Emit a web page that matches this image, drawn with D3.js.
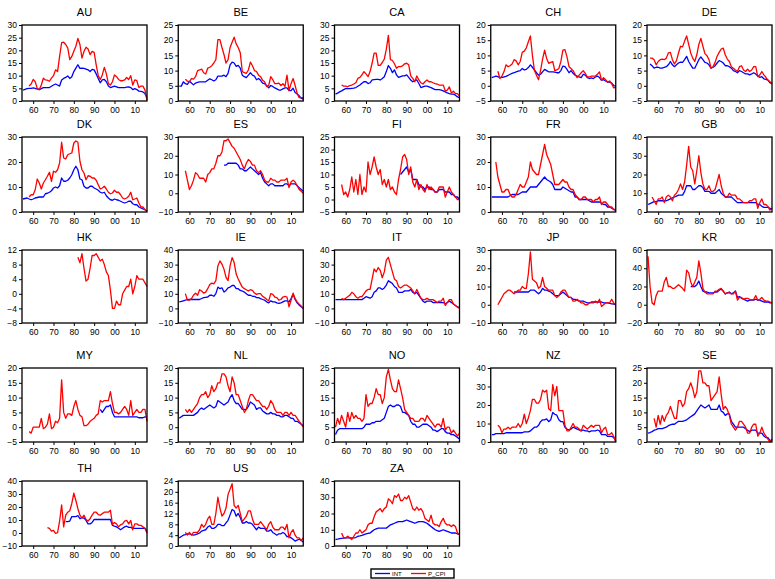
<!DOCTYPE html>
<html>
<head>
<meta charset="utf-8">
<script src="https://cdn.jsdelivr.net/npm/d3@7"></script>
<style>
  body { margin: 0; background: #fff; }
  svg { display: block; font-family: Arial, "Liberation Sans", sans-serif; }
</style>
</head>
<body>
<svg id="chart" width="775" height="579"></svg>
<script>
// yearly values; INT = blue, P_CPI = red
const AU_INT = [4.3,4.6,4.9,5.0,5.0,5.2,5.0,4.7,4.5,4.9, 5.3,5.3,5.3,5.3,5.8,6.3,6.7,6.3,5.9,8.3, 8.9,9.3,9.9,8.9,9.6,11.6,13.0,14.3,12.9,13.0, 12.9,12.6,12.3,11.6,12.5,12.3,10.7,8.9,7.2,8.3, 8.5,7.6,5.9,5.3,5.6,5.9,5.6,5.3,5.3,5.3, 5.3,5.5,5.6,5.3,4.5,4.9,4.5,3.9,3.8,3.6, 2.9,1.3];
const AU_CPI = [5.9,6.7,8.5,7.6,5.0,4.5,6.3,9.0,8.3,8.2, 7.8,9.0,10.0,12.3,11.6,17.6,23.0,23.2,22.3,21.0, 16.3,17.6,19.6,21.6,24.7,22.3,16.9,19.6,21.2,20.5, 18.3,19.6,19.2,14.3,10.0,8.5,10.3,13.3,10.7,6.9, 6.3,7.6,10.3,9.6,8.5,8.0,8.0,8.3,9.3,8.5, 10.0,6.3,8.3,8.0,5.3,5.9,5.9,4.3,0.3];
const BE_INT = [4.9,4.9,6.3,5.7,5.5,6.5,5.9,5.3,5.9,6.1, 6.3,6.3,6.3,6.3,6.8,7.3,7.0,6.6,7.0,8.2, 8.2,8.2,8.5,8.0,9.1,11.9,12.8,12.5,11.4,11.7, 10.8,8.5,8.0,7.7,8.5,9.3,8.5,8.2,7.0,7.4, 6.8,5.9,5.7,5.1,4.3,5.1,4.8,4.3,4.0,3.6, 3.6,4.0,4.3,4.3,3.4,3.4,4.2,2.8,2.3,1.7, 0.9,0.6];
const BE_CPI = [7.2,6.5,6.3,7.4,7.2,8.0,10.0,10.2,10.5,9.3, 8.9,10.8,11.1,11.6,12.5,13.6,20.2,20.2,17.6,15.3, 12.5,13.6,17.6,19.3,21.0,18.8,17.6,15.9,9.7,9.3, 9.1,10.2,12.8,11.6,10.0,9.7,8.5,8.0,6.8,6.3, 4.8,5.1,8.0,7.0,5.7,5.7,5.9,5.1,5.7,4.8, 8.5,3.4,5.7,7.4,5.1,2.5,1.1,1.1,1.1];
const CA_INT = [2.7,3.1,3.6,4.0,4.5,4.9,4.9,4.9,5.0,5.1, 5.3,5.8,6.3,7.0,7.6,7.6,6.9,7.2,8.3,8.4, 8.5,8.5,8.3,8.9,9.6,11.6,14.0,12.9,11.2,12.3, 10.3,9.3,9.6,9.9,9.9,10.3,9.3,8.3,7.6,8.0, 8.3,6.9,5.3,5.6,5.9,5.9,5.6,5.3,4.9,4.5, 4.5,4.5,4.3,4.0,3.6,3.2,2.9,2.7,2.7,2.3, 1.6,1.3];
const CA_CPI = [6.3,5.9,5.9,5.6,6.1,6.3,6.7,7.2,8.9,9.3, 10.3,11.6,10.7,9.6,11.6,14.9,18.9,18.9,14.1,14.1, 15.2,16.5,20.5,25.9,16.3,16.0,14.7,12.9,13.6,13.6, 13.9,14.7,14.9,14.3,9.9,8.9,7.6,9.9,8.3,7.2, 6.7,7.6,8.3,7.6,7.6,7.2,6.9,6.7,6.3,6.3, 6.3,4.0,4.3,5.6,3.2,3.9,2.9,2.9,1.9];
const CH_INT = [2.7,2.9,3.2,3.0,2.7,2.8,2.9,3.1,3.4,3.8, 4.1,4.3,4.6,4.8,5.0,5.7,5.2,5.4,6.0,6.9, 6.1,5.2,4.3,3.5,3.8,4.6,5.4,5.0,4.6,4.6, 4.6,4.5,4.3,4.3,5.0,6.5,6.3,5.4,4.3,5.0, 4.1,3.5,3.2,2.9,2.7,3.8,3.5,2.7,2.4,2.6, 2.4,2.9,3.2,2.7,1.8,2.0,1.6,1.2,1.2,0.9, 0.1,-0.2];
const CH_CPI = [4.8,2.4,3.2,4.6,6.9,6.3,6.6,7.2,8.6,8.2, 6.9,8.0,11.0,11.4,12.5,14.5,16.4,10.0,5.0,3.5, 2.0,5.0,8.8,11.7,9.0,7.4,7.7,8.0,5.0,5.2, 5.7,8.0,11.7,11.9,9.5,6.3,5.7,5.0,3.8,2.7, 3.5,4.3,5.0,4.1,2.9,2.9,3.2,3.2,3.2,3.8, 4.6,1.8,2.7,2.0,1.2,1.6,0.7,-0.7,-0.5];
const DE_INT = [7.2,6.6,5.8,6.1,6.1,5.8,5.8,6.1,6.3, 6.9,8.0,6.9,6.3,6.9,7.5,7.8,7.7,8.6,9.7, 8.0,6.9,5.8,5.8,7.2,8.6,9.5,8.6,7.7,7.5, 6.9,5.8,6.1,6.6,7.5,8.3,8.0,7.5,6.6,6.6, 6.3,5.8,5.0,4.7,4.3,5.0,4.7,4.3,3.9,3.9, 3.6,3.9,4.3,3.9,3.2,2.8,3.0,2.3,2.1,1.9, 1.0,0.6];
const DE_CPI = [9.1,9.1,8.6,6.9,8.0,8.6,8.8,8.6,9.1, 10.8,11.0,8.6,7.2,8.3,10.8,13.0,12.8,14.7,16.4, 13.6,10.8,9.1,8.0,10.2,13.6,15.6,13.0,10.6,9.9, 8.6,5.8,6.3,7.7,9.7,11.0,12.1,12.4,10.2,8.8, 8.0,6.3,5.8,5.2,4.7,6.3,6.6,5.2,4.7,5.5, 4.7,5.2,6.3,6.3,3.0,3.6,4.7,3.6,2.8,1.9, 1.3,0.8];
const DK_INT = [5.2,5.4,5.6,5.2,4.9,5.2,5.6,5.8,6.0,6.0, 6.0,7.3,7.5,7.9,8.5,9.6,10.0,9.6,10.5,13.6, 12.3,12.3,12.7,13.6,14.9,16.9,18.3,16.9,13.2,12.9, 10.3,9.6,9.6,10.3,10.3,9.6,9.2,8.7,7.9,7.6, 7.9,6.5,5.6,4.9,4.7,5.2,4.9,4.7,4.3,3.9, 3.6,3.9,4.3,4.3,3.3,2.9,2.9,2.0,1.6,1.2, 0.9,0.3];
const DK_CPI = [6.0,6.9,6.9,8.9,13.2,11.6,9.2,11.6,12.9,14.3, 15.9,12.3,16.3,15.9,16.9,19.6,27.9,21.6,21.2,22.9, 23.3,23.6,27.6,28.4,27.9,20.3,16.9,15.6,12.9,14.5, 14.3,13.6,13.6,12.7,10.9,9.2,9.6,10.3,9.2,7.9, 7.3,7.6,8.7,7.9,7.9,6.9,5.6,5.2,5.6,6.3, 7.9,4.9,5.2,5.6,3.6,2.0,2.0,0.9,0.3];
const ES_INT = [15,15,16,16,16,16,16,15,13,13, 12,12,13,14,13,12,11,10,11,8, 6,5,4,5,5,4,4,4,4,4, 5,5,4,5,5,5,4,3,2,1];
const ES_CPI = [12,7,2,4,7,11,10,8,8,8, 6,10,11,13,13,16,20,20,22,28, 28,29,27,25,24,22,20,18,15,13, 16,18,17,15,15,12,11,12,10,7, 6,6,8,7,7,6,6,7,7,7, 8,3,6,7,6,4,2,1,0];
const FI_INT = [10,11,12,13,11,12,8,8,8,6, 5,5,4,5,5,4,4,3,3,4, 4,4,3,3,3,2,2,1,1,0];
const FI_CPI = [6,2,3,1,4,9,3,8,2,10, 2,5,3,15,10,13,17,13,10,12, 6,8,5,8,4,5,3,2,8,12, 17,18,16,10,13,7,5,8,4,6, 4,3,6,4,5,4,3,3,5,5, 5,1,3,5,3,2,1,0,0];
const FR_INT = [6,6,6,6,6,6,6,6,6,6.5, 7,7,7,7,7.5,8,8,8,9,10, 10,10,10,11,12,13,14,13,12.5,12, 11,9,9,9,9,10,9.5,9,8.5,8, 8,6,6,5,5,5,5,5,4.5,4, 4,4,4,4,3.5,3,3,2,2,1.5, 1,0.5];
const FR_CPI = [20,14,11,8,8,9,9,7,6,6, 7,9,11,10,10,12,14,20,17,16, 15,15,19,23,27,23,21,19,15,11, 11,11,12,13,12,12,10,9,9,7, 6,5,5,6,6,5,5,5,4,5, 5,6,3,4,4,3,2,2,1,1];
const GB_INT = [4,4.5,5,5.5,5.5,6,6,6,6,6, 6.5,7,7.5,8,8.5,9,9,9,11,14, 14,14,12,12,13,14,14,13,11,11, 11,10,10,10,11,12,10,9,8,8, 8,8,7,6,5,5,5,5,5,5, 5,5,5,5,4,4,3,2.5,2.5,2.5, 2,1.5];
const GB_CPI = [8,6,4,7,7,8,5,8,9,8, 6,9,10,12,15,12,16,25,35,24, 22,15,22,30,21,15,12,12,14,11, 11,12,16,20,14,10,8,8,10,9, 9,9,7,7,6,5,5,5,6,6, 7,7,2,5,7,4,4,3,1,2];
const HK_CPI = [10,8.5,11,7,3.5,4,7,10.5,10.5,11, 10,9,9.5,8,6,5,1,-4,-4,-2, -3,-3,0,1,2,2,4,0,2,5, 4,4,4,3,2];
const IE_INT = [4.5,4.8,5.2,5.6,6.1,6.1,6.1,6.1,6.1,6.1, 6.1,6.8,7.4,7.6,7.8,9.0,9.0,8.3,10.1,14.6, 13.5,14.1,11.2,12.3,14.1,14.6,15.7,15.7,13.5,13.5, 12.3,11.9,11.2,10.1,9.0,9.0,8.3,8.3,7.4,7.4, 6.7,6.1,5.6,4.5,3.8,5.2,4.5,4.5,3.8,3.4, 3.8,4.5,5.2,5.2,4.5,6.7,9.6,6.1,3.8,2.2, 1.1,0.0];
const IE_CPI = [10.1,5.6,5.6,6.7,9.0,10.5,9.0,12.8,11.9,10.5, 11.2,13.5,16.4,17.3,16.8,19.0,29.1,32.5,30.3,26.9, 21.3,19.0,29.1,34.8,31.4,23.5,20.2,17.3,14.6,13.5, 12.8,11.9,12.8,12.3,10.5,9.6,10.1,10.1,8.3,7.4, 6.1,5.2,10.1,9.6,7.8,7.4,5.6,6.1,7.8,8.3, 7.8,1.1,5.6,10.5,6.7,4.5,2.9,1.6,0.0];
const IT_INT = [6,6,6,6,6,6,6,6,6,6, 6,6,6,6,7,8,7.5,7,8,11, 12,14,14,13,14,16,19,18,17,15, 14,11,11,11,12,12,12,13,11,10, 11,9,7,5,4,5,5,5,4,4, 4,4,4,4,3,4,5,4,3,2, 1,0.5];
const IT_CPI = [7,6,7,8,9,11,10,8,7,8, 8,10,12,13,13,20,27,25,28,26, 21,25,33,35,30,25,20,19,15,14, 15,16,16,15,14,12,10,13,10,7, 6,6,7,6,6,6,5,4,5,5, 7,2,4,6,6,3,2,1,0];
const JP_INT = [7,7,7,7,7,7,7,7,8,8, 8,7,6,7,9,8,8,7.5,7,6, 5,5,5,6,7,6,5,4,4,3, 3,2.5,2,2,2,1.5,1,1,1.5,1.5, 1.5,1.5,1.5,1.5,1,1,1,0.7,0.5,0.4, 0];
const JP_CPI = [0,2,4,6,7,8,8,7,6,7, 8,8,10,9,9,17,29,14,13,12, 9,10,15,10,9,8,8,8,5,4, 5,7,8,8,6,4,4,2,2,3, 2,1,1,0,0,1,1,1,2,1, 3,-1,0,1,1,1,3,1,0];
const KR_INT = [20,20,20,22,26,20,15,14,14,13, 13,13,14,14,16,17,15,12,13,14, 12,13,15,8,9,7,6,5,4,5, 5,5,6,5,5,4,3,3,3,2, 2];
const KR_CPI = [53,20,2,0,10,15,15,15,25,30, 20,20,18,18,20,22,20,18,15,38, 35,25,20,25,30,48,35,18,14,12, 12,12,12,15,15,17,18,15,12,13, 13,12,12,15,5,8,8,6,7,7, 6,5,6,10,5,6,8,5,4,4, 3,2];
const MY_INT = [6,5,6,7,7,7.5,5,3.5,3.5,3.5, 3.5,3.5,3.5,3.5,3.5,3.5,3.5,3.5,3.5,3.2, 3.2,3.2,3.5,3.5];
const MY_CPI = [-1.5,-2,0,0,0,0,3,-0.5,0,1, 4.5,-0.5,0,2,1.5,3,16,5,3,4.5, 4.5,4,7,9,6,4,3.5,0.5,0.5,1, 2,2.5,3,4,4.5,9,8.5,9,9,9, 12,8,5,5,4.5,5,6,7,6,4, 9,4,5,6,5,5,6,6,2];
const NL_INT = [3,3.5,4,4,4,4,4,4,4.5,5, 6,6.5,6,6.5,7,7.5,7,6.5,7,9, 8.5,8,7.5,8,8.5,10,11,9,8,8, 7,6,6,6,7,8.5,8,7.5,6,6.5, 6.5,5.5,5,4.5,4.5,5,4.5,4.5,4,4, 3.5,3.5,4,4,3.5,3,3,2,2,1.5, 1,0.5];
const NL_CPI = [6,5,6,5,6,7,8,10,11,11, 12,10,11,14,12,13,15,15,18,18, 17,14,12,17,15,11,11,9,7,5, 6,9,11,11,10,9,9,8,7,7, 6,7,9,8,6,5,5,5,4,5, 5,4,5,4,4,3,2,1,0];
const NO_INT = [2.5,4,4.5,4.5,4.5,4.5,4.5,4.5,4.5,4.5, 4.5,4.5,4.5,4.5,5,6,6,6,6.5,6.5, 7,7,7,7.5,8,10,12,12.5,12,12, 12.5,12.5,12,10,10,9.5,9,7,6,6, 5,5,5.5,6,6,6,5.5,5,4,4, 3.5,4,4.5,4.5,3.5,3,3,2.5,2.5,2, 1.5,1];
const NO_CPI = [5,8,6,9,7,5,10,7,10,8, 9,8,8,7,8,16,12,13,13,15, 18,16,16,13,15,22,24.5,21,18,17, 17,21,18,15,11,10,9,8,8,7, 7,7,8,8,7,9,8,7,6,5, 6,6,5,8,4,5,5,3,4,3, 2,3];
const NZ_INT = [4,4,4.5,4.5,4.5,4.5,4.5,5,5,5, 5,5,5,5,5,5,5.5,5.5,5.5,6, 7,8,8,9,11,12,12,12.5,11,12, 16,15,14.5,12,11,11,8,7,6.5,7, 8,7.5,7,6.5,6,6.5,6,6,5.5,6, 6,6,6.5,6,4,4,4,3,3,3, 2.5,0.5];
const NZ_CPI = [9,8,5,7,7,8,7,8,8,8, 10,8,10,15,10,13,17,23,23,21, 21,23,28,27,28,18,17,31,25,30, 17,17,17,9,6,6,8,10,8,8, 7,6,9,8,7,8,9,8,9,9, 9,5,7,8,4,4,5,3,0];
const SE_INT = [3,3.2,3.5,4,4.2,4.5,4.5,4.5,4.8,5, 5.5,5.8,6,6,6.5,7,7,7,7.2,7.5, 8,8.5,9,9.5,10.5,11.5,12.5,12,11.5,12, 12.5,11,11,11,11,12.5,10.5,10,9,9.5, 9.5,7,6,5,5,5,5,5,4.5,4, 3.5,4,4,4,3,3,3,2,1.5,1.5, 0.5,0.5];
const SE_CPI = [8,5,9,6,9,7,9,10,12,10, 8,8,14,14,12,13,17,18,20,18, 15,17,24,24,20,20,19,19,14,15, 16,17,22,16,11,12,11,9,6,5, 4,5,7,7,6,5,3,3,5,6, 6,2,3,5,3,2,1,0,1];
const TH_INT = [8.8,8.8,9.2,12.6,12.6,12.6,13.3,11.0,11.9,11.5, 9.7,7.0,7.0,8.1,10.4,10.4,10.4,10.4,10.4,10.4, 10.4,10.4,10.4,5.9,5.2,4.7,3.6,2.5,3.6,4.7, 5.2,4.3,4.3,3.6,3.6,3.6,3.6,3.6,3.6,3.6, 1.4];
const TH_CPI = [4.1,3.6,1.4,2.0,-0.2,0.2,9.2,21.6,4.7,13.7, 16.0,17.1,22.7,30.6,25.0,18.7,13.7,11.5,13.7,10.4, 9.2,11.0,13.7,16.0,16.0,14.2,13.7,14.9,16.0,16.0, 16.0,17.6,6.5,8.1,7.0,4.7,6.3,7.0,9.2,9.7, 7.0,9.7,2.5,7.0,7.0,5.9,5.9,4.7,3.6,-0.2];
const US_INT = [3,3.5,4,4.2,4.5,4.5,4.2,4,4.2,4.5, 4.8,5.5,5.8,6,7,7.5,6.5,6.5,7,8, 8,7.5,7.5,8.5,9.5,11.5,13.5,13,11,12, 10.5,8.5,8.5,9,8.5,8.5,8,7,6,7, 6.5,6.5,6.5,5.5,5.5,6,5,4.5,4,4.5, 4.5,5,4.5,3.5,3.5,3,2.5,1.8,2.2,2.5, 2,1.5];
const US_CPI = [5,4,5,4,5,5,5,6,8,7, 8,10,11,8,8,12,18,14,11,12, 14,19,21,23,15,14,15,12,9,10, 11,13,13,10,8,8,8,9,8,7, 6,8,9,7,6,6,6,7,7,6, 8,3,5,6,4,3,3,2,3];
const ZA_INT = [4,4.2,4.5,4.7,4.8,5,5,5,5,5, 5.2,6,6.2,6.5,7,7.5,7.8,8,9,10, 10.5,11,11,11,11,11,12,13,13.5,14, 14.5,15,15,15,15.5,16,15.5,15,14.5,14, 14.5,15,15,15,14.5,14,13,12,11,10, 9.5,9,9.5,10,9.5,9,8.5,8,8,8, 7.5,7];
const ZA_CPI = [8,5,5,6,5,4,6,8,8,10, 8,9,10,13,14,14,18,21,22,23, 21,23,24,29,28,26,31,30,32,28, 28,30,29,31,27,23,22,24,22,23, 21,17,16,15,19,14,13,13,12,15, 17,14,13,13,12,13,12,8,7];

// panel id, blue series + first year, red series + first year, y axis [min, max, step]
const PANELS = [
  ['AU', AU_INT, 1955, AU_CPI, 1958, [0, 30, 5]],
  ['BE', BE_INT, 1955, BE_CPI, 1958, [0, 25, 5]],
  ['CA', CA_INT, 1955, CA_CPI, 1958, [0, 30, 5]],
  ['CH', CH_INT, 1955, CH_CPI, 1958, [-5, 20, 5]],
  ['DE', DE_INT, 1956, DE_CPI, 1956, [-5, 20, 5]],
  ['DK', DK_INT, 1955, DK_CPI, 1958, [0, 30, 10]],
  ['ES', ES_INT, 1977, ES_CPI, 1958, [-10, 30, 10]],
  ['FI', FI_INT, 1987, FI_CPI, 1958, [-5, 25, 5]],
  ['FR', FR_INT, 1955, FR_CPI, 1957, [0, 30, 10]],
  ['GB', GB_INT, 1955, GB_CPI, 1957, [0, 40, 10]],
  ['HK', null, 0, HK_CPI, 1982, [-8, 12, 4]],
  ['IE', IE_INT, 1955, IE_CPI, 1958, [-10, 40, 10]],
  ['IT', IT_INT, 1955, IT_CPI, 1958, [-10, 40, 10]],
  ['JP', JP_INT, 1966, JP_CPI, 1958, [-10, 30, 10]],
  ['KR', KR_INT, 1976, KR_CPI, 1955, [-20, 60, 20]],
  ['MY', MY_INT, 1993, MY_CPI, 1958, [-5, 20, 5]],
  ['NL', NL_INT, 1955, NL_CPI, 1958, [-5, 20, 5]],
  ['NO', NO_INT, 1955, NO_CPI, 1955, [0, 25, 5]],
  ['NZ', NZ_INT, 1955, NZ_CPI, 1958, [0, 40, 10]],
  ['SE', SE_INT, 1955, SE_CPI, 1958, [0, 25, 5]],
  ['TH', TH_INT, 1976, TH_CPI, 1967, [-10, 40, 10]],
  ['US', US_INT, 1955, US_CPI, 1958, [0, 24, 4]],
  ['ZA', ZA_INT, 1955, ZA_CPI, 1958, [0, 40, 10]]
];
const X_TICKS = [1960, 1970, 1980, 1990, 2000, 2010];
const X_DOMAIN = [1954.5, 2016];

const ROW_TOP = [25, 137, 250, 368, 481];
const ROW_BOTTOM = [101, 212, 323, 442, 546];
const PLOT_W = 125;
const BLUE = '#0000ff', RED = '#ff0000';

const svg = d3.select('#chart');

const toPoints = (vals, from) => vals.map((v, i) => [from + i, v]);

PANELS.forEach(([id, intVals, intFrom, cpiVals, cpiFrom, yAx], i) => {
  const row = Math.floor(i / 5), col = i % 5;
  const right = 147 + 156.25 * col;
  const left = right - PLOT_W;
  const top = ROW_TOP[row], bottom = ROW_BOTTOM[row];

  const x = d3.scaleLinear().domain(X_DOMAIN).range([left, right]);
  const y = d3.scaleLinear().domain([yAx[0], yAx[1]]).range([bottom, top]);
  const g = svg.append('g');

  g.append('text')
    .attr('x', (left + right) / 2).attr('y', top - 9)
    .attr('text-anchor', 'middle')
    .attr('font-size', 11).attr('fill', '#000')
    .text(id);

  const yAxis = g.append('g').attr('transform', `translate(${left},0)`)
    .call(d3.axisLeft(y)
      .tickValues(d3.range(yAx[0], yAx[1] + yAx[2] / 2, yAx[2]))
      .tickSize(3).tickSizeOuter(0).tickPadding(2));
  const xAxis = g.append('g').attr('transform', `translate(0,${bottom})`)
    .call(d3.axisBottom(x)
      .tickValues(X_TICKS)
      .tickFormat(d => String(d % 100).padStart(2, '0'))
      .tickSize(3).tickSizeOuter(0).tickPadding(3));
  [yAxis, xAxis].forEach(a => {
    a.select('.domain').remove();
    a.selectAll('text').attr('font-size', 8.5).attr('fill', '#000')
      .attr('font-family', 'Arial, "Liberation Sans", sans-serif');
    a.selectAll('line').attr('stroke', '#000').attr('stroke-width', 1);
  });

  const line = d3.line()
    .defined(d => d[1] != null)
    .x(d => x(d[0])).y(d => y(d[1]));

  if (intVals) {
    g.append('path').datum(toPoints(intVals, intFrom))
      .attr('d', line).attr('fill', 'none')
      .attr('stroke', BLUE).attr('stroke-width', 1.3).attr('stroke-linejoin', 'round');
  }
  g.append('path').datum(toPoints(cpiVals, cpiFrom))
    .attr('d', line).attr('fill', 'none')
    .attr('stroke', RED).attr('stroke-width', 1.3).attr('stroke-linejoin', 'round');

  g.append('rect')
    .attr('x', left).attr('y', top)
    .attr('width', right - left).attr('height', bottom - top)
    .attr('fill', 'none').attr('stroke', '#000').attr('stroke-width', 1.3);
});

// legend
const lg = svg.append('g').attr('transform', 'translate(371,569)');
lg.append('rect').attr('width', 83).attr('height', 9)
  .attr('fill', '#fff').attr('stroke', '#000').attr('stroke-width', 1.4);
[['INT', BLUE, 4], ['P_CPI', RED, 40]].forEach(([name, color, off]) => {
  lg.append('line').attr('x1', off).attr('x2', off + 15).attr('y1', 4.5).attr('y2', 4.5)
    .attr('stroke', color).attr('stroke-width', 1.3);
  lg.append('text').attr('x', off + 17).attr('y', 6.5)
    .attr('font-size', 6).attr('fill', '#000').text(name);
});
</script>
</body>
</html>
